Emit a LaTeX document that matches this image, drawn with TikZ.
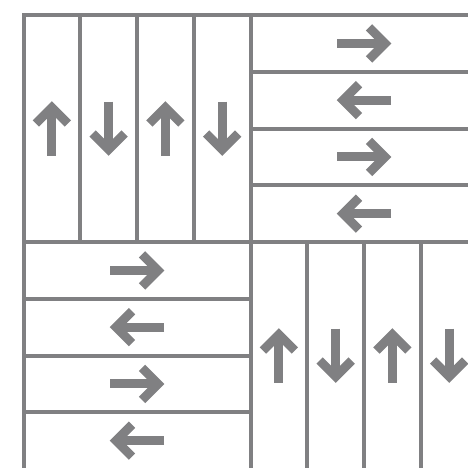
\documentclass[tikz,border=0pt]{standalone}
\definecolor{lc}{RGB}{128,128,130}
\begin{document}
\begin{tikzpicture}[x=1pt,y=-1pt,
  grid/.style={draw=lc,line width=4pt},
  pics/arr/.style={code={
    \draw[lc,line width=9pt] (-27,0)--(18,0);
    \draw[lc,line width=9pt,line join=miter] (5,-16)--(21,0)--(5,16);
  }}]
\useasboundingbox (0,0) rectangle (468,467);
\clip (0,0) rectangle (468,467);
\def\xo{23.5}\def\yo{15}\def\s{56.75}
% outer top and left edges
\draw[grid,line join=miter] (475,\yo) -- (\xo,\yo) -- (\xo,475);
% centre lines
\draw[grid] (\xo+4*\s,\yo) -- (\xo+4*\s,475);
\draw[grid] (\xo,\yo+4*\s) -- (475,\yo+4*\s);
\foreach \i in {1,2,3}{
  % top-left vertical strips
  \draw[grid] (\xo+\i*\s,\yo) -- (\xo+\i*\s,\yo+4*\s);
  % top-right horizontal strips
  \draw[grid] (\xo+4*\s,\yo+\i*\s) -- (475,\yo+\i*\s);
  % bottom-left horizontal strips
  \draw[grid] (\xo,\yo+4*\s+\i*\s) -- (\xo+4*\s,\yo+4*\s+\i*\s);
  % bottom-right vertical strips
  \draw[grid] (\xo+4*\s+\i*\s,\yo+4*\s) -- (\xo+4*\s+\i*\s,475);
}
% arrows top-left (up, down, up, down) and bottom-right
\foreach \i/\r in {0/90,1/-90,2/90,3/-90}{
  \pic[rotate=\r] at (\xo+\i*\s+0.5*\s,\yo+2*\s) {arr};
  \pic[rotate=\r] at (\xo+4*\s+\i*\s+0.5*\s,\yo+6*\s) {arr};
}
% arrows horizontal (right, left, right, left)
\foreach \i/\r in {0/0,1/180,2/0,3/180}{
  \pic[rotate=\r] at (\xo+6*\s,\yo+\i*\s+0.5*\s) {arr};
  \pic[rotate=\r] at (\xo+2*\s,\yo+4*\s+\i*\s+0.5*\s) {arr};
}
\end{tikzpicture}
\end{document}
